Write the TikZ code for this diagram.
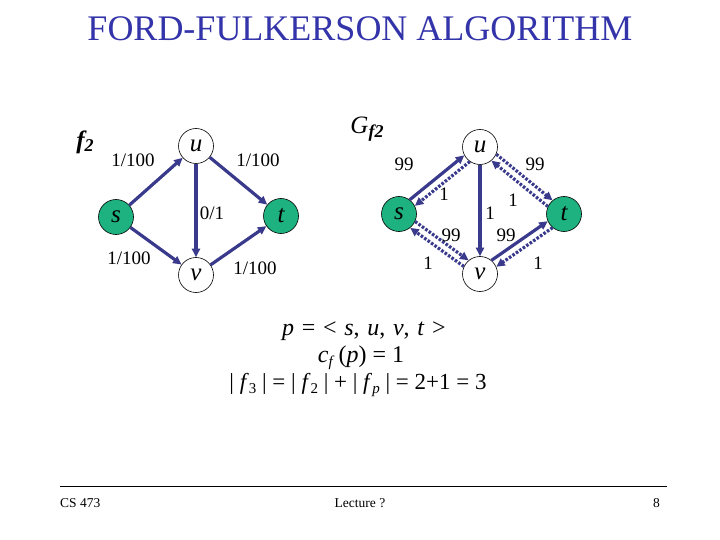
\documentclass[tikz,border=0pt]{standalone}
\usepackage{fontspec}
\setmainfont{Liberation Serif}
\usetikzlibrary{arrows.meta}
\definecolor{titleblue}{RGB}{51,51,170}
\definecolor{edgeblue}{RGB}{58,58,140}
\definecolor{nodegreen}{RGB}{30,178,128}
\newcommand{\mysub}[1]{\raisebox{-0.35ex}{\fontsize{15}{15}\selectfont #1}}
\newcommand{\mysubb}[1]{\raisebox{-0.3ex}{\fontsize{18}{18}\selectfont #1}}
\newcommand{\wsp}{\hspace{0.32em}}
\begin{document}
\begin{tikzpicture}[x=1pt,y=-1pt,
  vtx/.style={circle,draw=black,line width=0.6pt,minimum size=35pt,inner sep=0pt,fill=white,
    font=\fontsize{25}{25}\selectfont\itshape},
  term/.style={vtx,fill=nodegreen},
  lab/.style={font=\fontsize{19}{21}\selectfont,inner sep=0pt},
  solidedge/.style={draw=edgeblue,line width=3.2pt,-{Triangle[length=8.5pt,width=8pt]}},
  dashedge/.style={draw=edgeblue,line width=3.2pt,dash pattern=on 2.6pt off 1.6pt,-{Triangle[length=8.5pt,width=8pt]}},
  eq/.style={font=\fontsize{23}{25}\selectfont,inner sep=0pt},
  eqb/.style={font=\fontsize{24}{26}\selectfont,inner sep=0pt},
  foot/.style={font=\fontsize{13.5}{15}\selectfont,inner sep=0pt}]
\useasboundingbox (0,0) rectangle (720,540);

% title
\node[text=titleblue,font=\fontsize{36}{40}\selectfont,inner sep=0pt] (title) at (360,29) {FORD-FULKERSON ALGORITHM};

% ---------- graph f2 ----------
\node[font=\fontsize{25}{25}\selectfont\bfseries\itshape,inner sep=0pt] (f2lab) at (85,142) {f\mysubb{2}};
\node[term] (s1) at (116,217) {s};
\node[vtx]  (u1) at (196,146) {u};
\node[term] (t1) at (281,216) {t};
\node[vtx]  (v1) at (196,275) {v};

\draw[solidedge] (s1) -- (u1);
\draw[solidedge] (u1) -- (t1);
\draw[solidedge] (s1) -- (v1);
\draw[solidedge] (v1) -- (t1);
\draw[solidedge] (u1) -- (v1);

\node[lab] (l1) at (133,160) {1/100};
\node[lab] (l2) at (258,160) {1/100};
\node[lab] (l3) at (212,213) {0/1};
\node[lab] (l4) at (129,258) {1/100};
\node[lab] (l5) at (255,268) {1/100};

% ---------- residual graph ----------
\node[font=\fontsize{25}{25}\selectfont\itshape,inner sep=0pt] (gflab) at (367,129) {G\mysubb{\bfseries f2}};
\node[term] (s2) at (399,214) {s};
\node[vtx]  (u2) at (480,147) {u};
\node[term] (t2) at (564,214) {t};
\node[vtx]  (v2) at (480,274) {v};

% s - u
\draw[solidedge] (s2.53) -- (u2.208);
\draw[dashedge]  (u2.235) -- (s2.27);
% u - v
\draw[solidedge] (u2) -- (v2);
% u - t
\draw[dashedge]  (u2.-24) -- (t2.130);
\draw[dashedge]  (t2.155) -- (u2.-50);
% s - v
\draw[dashedge]  (s2.-25) -- (v2.130);
\draw[dashedge]  (v2.155) -- (s2.-51);
% v - t
\draw[solidedge] (v2.50) -- (t2.204);
\draw[dashedge]  (t2.230) -- (v2.24);

\node[lab] (r1) at (404,164) {99};
\node[lab] (r2) at (444,194) {1};
\node[lab] (r3) at (490,213) {1};
\node[lab] (r4) at (513,200) {1};
\node[lab] (r5) at (535,164) {99};
\node[lab] (r6) at (451,235) {99};
\node[lab] (r7) at (506,235) {99};
\node[lab] (r8) at (428,263) {1};
\node[lab] (r9) at (538,263) {1};

% ---------- equations ----------
\node[eqb] (e1) at (364,331) {\textit{p}\wsp=\wsp<\wsp\textit{s},\wsp\textit{u},\wsp\textit{v},\wsp\textit{t}\wsp>};
\node[eqb] (e2) at (361,358) {\textit{c}\mysub{\textit{f}}\,(\textit{p}) = 1};
\node[eq] (e3) at (358,385) {| \textit{f}\mysub{3} | = | \textit{f}\mysub{2} | + | \textit{f}\mysub{\textit{p}} | = 2+1 = 3};

% ---------- footer ----------
\coordinate (fl) at (60,486);
\coordinate (fr) at (667,486);
\draw[line width=0.8pt] (fl) -- (fr);
\node[foot,anchor=west] (cs) at (60,503) {CS 473};
\node[foot] (lec) at (360,503) {Lecture ?};
\node[foot,anchor=east] (pg) at (660,503) {8};
\end{tikzpicture}
\end{document}
